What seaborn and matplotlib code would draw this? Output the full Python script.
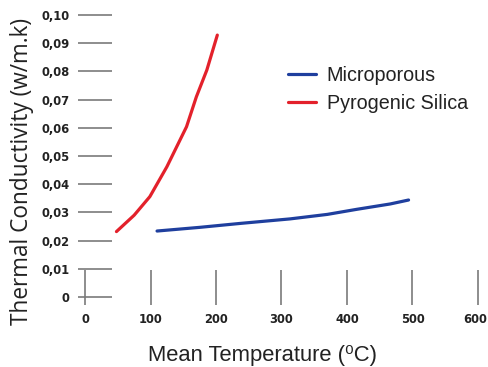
import matplotlib
matplotlib.use("Agg")
import matplotlib.pyplot as plt
import matplotlib.transforms as mtransforms
import seaborn as sns
import pandas as pd
from matplotlib.ticker import FuncFormatter

# Data
micro_temp = [110, 175, 237, 313, 370, 415, 466, 494]
micro_k = [0.0234, 0.0247, 0.0261, 0.0277, 0.0293, 0.0311, 0.0330, 0.0344]
pyro_temp = [48, 75, 99, 125, 155, 170, 186, 202]
pyro_k = [0.0232, 0.0290, 0.0356, 0.0462, 0.0604, 0.0710, 0.0805, 0.0929]

x_ticks = [0, 100, 200, 300, 400, 500, 600]
y_ticks = [0, 0.01, 0.02, 0.03, 0.04, 0.05, 0.06, 0.07, 0.08, 0.09, 0.10]

df = pd.concat([
    pd.DataFrame({"T": micro_temp, "k": micro_k, "s": "Microporous"}),
    pd.DataFrame({"T": pyro_temp, "k": pyro_k, "s": "Pyrogenic Silica"}),
])

sns.set_theme(style="white")
plt.rcParams["font.family"] = ["Liberation Sans", "DejaVu Sans"]

fig = plt.figure(figsize=(4.89, 3.67), dpi=100)
ax = fig.add_axes([78/489, 62/367, 407/489, 295/367])

sns.lineplot(data=df, x="T", y="k", hue="s", sort=False,
             palette={"Microporous": "#1f3f9e", "Pyrogenic Silica": "#e3212b"},
             linewidth=2.3, ax=ax)

ax.set_xlim(-10.7, 610.7)
ax.set_ylim(-0.00284, 0.1018)
ax.set_xticks(x_ticks)
ax.set_yticks(y_ticks)
ax.yaxis.set_major_formatter(FuncFormatter(lambda v, p: "0" if abs(v) < 1e-9 else f"{v:.2f}".replace(".", ",")))
ax.xaxis.set_major_formatter(FuncFormatter(lambda v, p: f"{int(v)}"))

for s in ax.spines.values():
    s.set_visible(False)

ax.tick_params(axis="y", direction="in", length=24.5, width=1.2, color="#7a7a7a", pad=6, left=True)
ax.tick_params(axis="x", direction="in", length=25, width=1.2, color="#7a7a7a", pad=6, bottom=True)
for lab in ax.get_xticklabels() + ax.get_yticklabels():
    lab.set_fontfamily(["DejaVu Sans"])
    lab.set_fontstretch("condensed")
    lab.set_fontweight("bold")
    lab.set_fontsize(9.3)
    lab.set_color("#222222")

# nudge the last x tick label slightly left so it stays inside the canvas
last = ax.xaxis.get_major_ticks()[-1].label1
last.set_transform(last.get_transform() + mtransforms.ScaledTranslation(-2.5/100, 0, fig.dpi_scale_trans))

ax.set_xlabel("Mean Temperature (\u2070C)", fontsize=15.8, color="#222222", va="center")
ax.set_ylabel("Thermal Conductivity (w/m.k)", fontsize=16.3, color="#222222", va="center",
              family=["Open Sans", "DejaVu Sans"])
ax.xaxis.set_label_coords(0.4545, -0.1695)
ax.yaxis.set_label_coords(-0.1376, 0.4525)

leg = ax.legend(loc="upper left", bbox_to_anchor=(0.473, 0.87), frameon=False,
                fontsize=14.2, handlelength=1.4, handletextpad=0.55, labelspacing=0.45,
                title=None)
for t in leg.get_texts():
    t.set_color("#222222")

fig.savefig("out.png", dpi=100)
